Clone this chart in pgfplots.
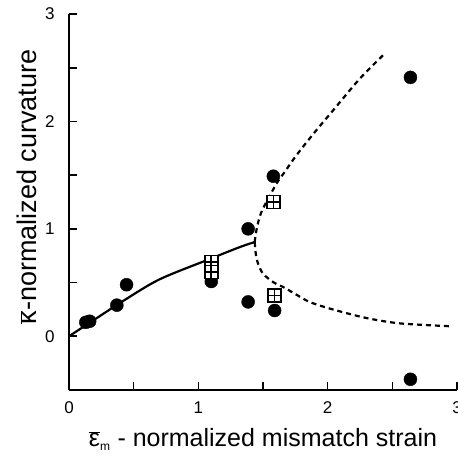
\documentclass[border=0pt]{standalone}
\usepackage{fontspec}
\setmainfont{Liberation Sans}
\usepackage{pgfplots}
\pgfplotsset{compat=1.18}
\begin{document}
\begin{tikzpicture}
\begin{axis}[
  scale only axis, width=388pt, height=376pt,
  xmin=0, xmax=3, ymin=-0.5, ymax=3,
  axis x line=bottom, axis y line=left,
  axis line style={line width=1.6pt, -},
  xtick={0,1,2,3}, ytick={0,1,2,3},
  minor xtick={0.5,1.5,2.5}, minor ytick={0.5,1.5,2.5},
  tick align=inside,
  major tick length=8pt, minor tick length=8pt,
  every tick/.style={line width=1.6pt, black},
  xticklabels={0,1,2,3}, yticklabels={0,1,2,3},
  x tick label style={font=\fontsize{17}{19}\selectfont, yshift=-8pt},
  y tick label style={font=\fontsize{17}{19}\selectfont, xshift=-11pt},
  xlabel style={font=\fontsize{25}{29}\selectfont, yshift=-8pt},
  ylabel style={font=\fontsize{27}{31}\selectfont, at={(axis description cs:-0.108,0.54)}, anchor=center},
  xlabel={$\overline{\mbox{ε}}_{\mbox{\fontsize{12}{14}\selectfont m}}$ - normalized mismatch strain},
  ylabel={$\overline{\mbox{κ}}$-normalized curvature},
  clip=false,
]
\coordinate (ll) at (rel axis cs:0,0);
% solid branch
\addplot[black, line width=2.2pt, smooth] coordinates {
  (0,0) (0.19,0.15) (0.42,0.33) (0.70,0.53) (1.09,0.72) (1.32,0.83) (1.436,0.877)};
% upper dashed branch
\addplot[black, line width=2.2pt, smooth, dash pattern=on 5pt off 4pt] coordinates {
  (1.436,0.877) (1.449,0.986) (1.488,1.157) (1.604,1.42) (1.668,1.53) (1.758,1.684)
  (1.90,1.90) (2.04,2.10) (2.25,2.40) (2.44,2.63)};
% lower dashed branch
\addplot[black, line width=2.2pt, smooth, dash pattern=on 5pt off 4pt] coordinates {
  (1.436,0.877) (1.444,0.769) (1.462,0.676) (1.50,0.583) (1.578,0.505) (1.655,0.459)
  (1.745,0.397) (1.861,0.319) (2.04,0.25) (2.30,0.17) (2.56,0.12) (2.955,0.093)};
% circles
\addplot[only marks, mark=*, mark size=6.5pt, mark options={fill=black, draw=black}] coordinates {
  (0.13,0.13) (0.16,0.14) (0.37,0.29) (0.445,0.48) (1.10,0.51) (1.385,1.00) (1.385,0.32)
  (1.58,1.49) (1.59,0.24) (2.64,2.41) (2.64,-0.40)};
% boxed plus markers
\addplot[only marks, mark=square*, mark size=6.5pt, mark options={fill=white, draw=black, line width=1.6pt}] coordinates {
  (1.10,0.69) (1.10,0.60) (1.58,1.25) (1.59,0.38)};
\addplot[only marks, mark=+, mark size=6.5pt, mark options={draw=black, line width=1.6pt}] coordinates {
  (1.10,0.69) (1.10,0.60) (1.58,1.25) (1.59,0.38)};
\end{axis}
\pgfresetboundingbox
\path[use as bounding box] (ll) ++(-69pt,-66pt) rectangle ++(458pt,456pt);
\end{tikzpicture}
\end{document}
